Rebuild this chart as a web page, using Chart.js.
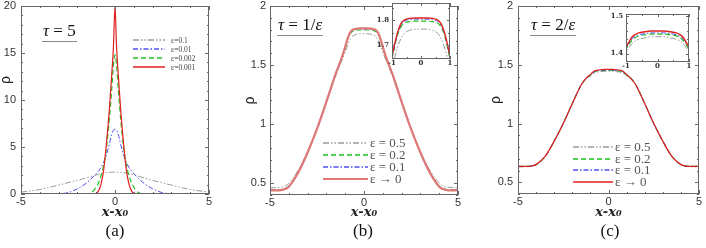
<!DOCTYPE html>
<html>
<head>
<meta charset="utf-8">
<script src="https://cdn.jsdelivr.net/npm/chart.js@4.4.0/dist/chart.umd.min.js"></script>
<style>
body { margin: 0; background: #fff; width: 706px; height: 248px; position: relative; overflow: hidden; font-family: "Liberation Serif", serif; }
canvas { position: absolute; top: 0; }
.tau { position: absolute; font-size: 17px; line-height: 17px; color: #111; border-bottom: 1px solid #888; padding: 0 1px 2px 1px; white-space: nowrap; }
.cap { position: absolute; top: 221px; width: 40px; margin-left: -20px; text-align: center; font-size: 17px; color: #111; }
.rho { position: absolute; font-family: "Liberation Sans", sans-serif; font-size: 14px; line-height: 14px; color: #222; transform: rotate(-90deg); }
</style>
</head>
<body>
<canvas id="cA" width="235" height="248" style="left:0"></canvas>
<canvas id="cB" width="235" height="248" style="left:240px"></canvas>
<canvas id="cC" width="220" height="248" style="left:486px"></canvas>
<canvas id="iB" width="82" height="68" style="left:372px"></canvas>
<canvas id="iC" width="88" height="70" style="left:606px"></canvas>
<div class="rho" style="left:1px;top:73px">ρ</div>
<div class="tau" style="left:42px;top:22px"><i>τ</i> = 5</div>
<div class="tau" style="left:277px;top:16px"><i>τ</i> = 1/<i>ε</i></div>
<div class="tau" style="left:530px;top:16px"><i>τ</i> = 2/<i>ε</i></div>
<div class="cap" style="left:115px">(a)</div>
<div class="cap" style="left:363px">(b)</div>
<div class="cap" style="left:610px">(c)</div>
<script>
// panel (a): tau = 5
const xA = [-5, -4, -3, -2.5, -2, -1.6, -1.3, -1.1, -0.9, -0.75, -0.6, -0.45, -0.3, -0.18, -0.08, 0,
  0.08, 0.18, 0.3, 0.45, 0.6, 0.75, 0.9, 1.1, 1.3, 1.6, 2, 2.5, 3, 4, 5];
const a_e01 = [0.2, 0.48, 0.95, 1.2, 1.45, 1.68, 1.85, 1.97, 2.08, 2.16, 2.23, 2.28, 2.31, 2.32, 2.33, 2.33,
  2.33, 2.32, 2.31, 2.28, 2.23, 2.16, 2.08, 1.97, 1.85, 1.68, 1.45, 1.2, 0.95, 0.48, 0.2];
const a_e001 = [0, 0, 0.02, 0.15, 0.55, 1.05, 1.55, 1.95, 2.4, 2.8, 3.4, 4.2, 5.3, 6.3, 6.8, 6.9,
  6.8, 6.3, 5.3, 4.2, 3.4, 2.8, 2.4, 1.95, 1.55, 1.05, 0.55, 0.15, 0.02, 0, 0];
const a_e0002 = [0, 0, 0, 0, 0, 0, 0.1, 0.45, 1.1, 1.9, 3.1, 5.0, 8.0, 11.0, 13.8, 14.8,
  13.8, 11.0, 8.0, 5.0, 3.1, 1.9, 1.1, 0.45, 0.1, 0, 0, 0, 0, 0, 0];
const a_e0001 = [0, 0, 0, 0, 0, 0, 0, 0.02, 0.25, 1.0, 2.6, 5.5, 9.0, 12.5, 15.8, 20,
  15.8, 12.5, 9.0, 5.5, 2.6, 1.0, 0.25, 0.02, 0, 0, 0, 0, 0, 0, 0];

// panels (b) and (c) share the x grid
const xBC = [-5, -4.5, -4.2, -4, -3.5, -3, -2.5, -2, -1.5, -1.2, -1, -0.9, -0.8, -0.7, -0.6, -0.4, -0.2, 0,
  0.2, 0.4, 0.6, 0.7, 0.8, 0.9, 1, 1.2, 1.5, 2, 2.5, 3, 3.5, 4, 4.2, 4.5, 5];
// (b) tau = 1/eps
const b_e05 = [0.46, 0.465, 0.475, 0.5, 0.61, 0.77, 0.96, 1.18, 1.41, 1.53, 1.61, 1.655, 1.695, 1.725, 1.745, 1.76, 1.765, 1.765,
  1.765, 1.76, 1.745, 1.725, 1.695, 1.655, 1.61, 1.53, 1.41, 1.18, 0.96, 0.77, 0.61, 0.5, 0.475, 0.465, 0.46];
const b_e02 = [0.445, 0.445, 0.455, 0.475, 0.59, 0.76, 0.96, 1.19, 1.43, 1.55, 1.645, 1.7, 1.745, 1.772, 1.787, 1.795, 1.797, 1.797,
  1.797, 1.795, 1.787, 1.772, 1.745, 1.7, 1.645, 1.55, 1.43, 1.19, 0.96, 0.76, 0.59, 0.475, 0.455, 0.445, 0.445];
const b_e01 = [0.44, 0.44, 0.45, 0.47, 0.59, 0.76, 0.96, 1.19, 1.43, 1.555, 1.65, 1.705, 1.75, 1.78, 1.795, 1.803, 1.805, 1.805,
  1.805, 1.803, 1.795, 1.78, 1.75, 1.705, 1.65, 1.555, 1.43, 1.19, 0.96, 0.76, 0.59, 0.47, 0.45, 0.44, 0.44];
const b_e0 = [0.44, 0.44, 0.45, 0.47, 0.59, 0.76, 0.96, 1.19, 1.43, 1.555, 1.655, 1.71, 1.755, 1.785, 1.8, 1.808, 1.81, 1.81,
  1.81, 1.808, 1.8, 1.785, 1.755, 1.71, 1.655, 1.555, 1.43, 1.19, 0.96, 0.76, 0.59, 0.47, 0.45, 0.44, 0.44];
// (c) tau = 2/eps
const c_e05 = [0.63, 0.632, 0.638, 0.65, 0.72, 0.85, 1.0, 1.17, 1.33, 1.385, 1.405, 1.417, 1.427, 1.434, 1.438, 1.442, 1.445, 1.445,
  1.445, 1.442, 1.438, 1.434, 1.427, 1.417, 1.405, 1.385, 1.33, 1.17, 1.0, 0.85, 0.72, 0.65, 0.638, 0.632, 0.63];
const c_e02 = [0.635, 0.635, 0.64, 0.65, 0.72, 0.85, 1.0, 1.17, 1.33, 1.39, 1.412, 1.425, 1.436, 1.443, 1.447, 1.45, 1.452, 1.452,
  1.452, 1.45, 1.447, 1.443, 1.436, 1.425, 1.412, 1.39, 1.33, 1.17, 1.0, 0.85, 0.72, 0.65, 0.64, 0.635, 0.635];
const c_e01 = [0.635, 0.635, 0.64, 0.65, 0.72, 0.85, 1.0, 1.17, 1.33, 1.39, 1.415, 1.428, 1.44, 1.446, 1.45, 1.453, 1.455, 1.455,
  1.455, 1.453, 1.45, 1.446, 1.44, 1.428, 1.415, 1.39, 1.33, 1.17, 1.0, 0.85, 0.72, 0.65, 0.64, 0.635, 0.635];
const c_e0 = [0.635, 0.635, 0.64, 0.65, 0.72, 0.85, 1.0, 1.17, 1.33, 1.39, 1.418, 1.432, 1.445, 1.451, 1.455, 1.458, 1.46, 1.46,
  1.46, 1.458, 1.455, 1.451, 1.445, 1.432, 1.418, 1.39, 1.33, 1.17, 1.0, 0.85, 0.72, 0.65, 0.64, 0.635, 0.635];

const labelsA = ['ε=0.1', 'ε=0.01', 'ε=0.002', 'ε=0.001'];
const labelsBC = ['ε = 0.5', 'ε = 0.2', 'ε = 0.1', 'ε → 0'];
const xTicksMain = [-5, 0, 5];
const yTicksA = [0, 5, 10, 15, 20];
const yTicksBC = [0.5, 1, 1.5, 2];
const xTicksInset = [-1, 0, 1];
const yTicksInB = [1.7, 1.8];
const yTicksInC = [1.4, 1.5];

const GRAY = { c: '#9a9a9a', d: [6, 2, 1.5, 2, 1.5, 2], w: 1 };
const BLUE = { c: '#5050f0', d: [5, 2, 1.5, 2], w: 1 };
const GREEN = { c: '#20c020', d: [5, 3], w: 1.2 };
const RED = { c: '#e02020', d: [], w: 1.2 };
const PINK = { c: '#e07878', d: [], w: 2.2 };
const RED_IN = { c: '#e02020', d: [], w: 1.4 };

// frame with inward ticks on all four sides
const frameTicks = {
  id: 'frameTicks',
  beforeDatasetsDraw(chart, args, o) {
    if (!o.on) return;
    const { ctx, chartArea: c } = chart;
    ctx.save();
    ctx.fillStyle = '#fff';
    ctx.fillRect(c.left, c.top, c.width, c.height);
    ctx.restore();
  },
  afterDatasetsDraw(chart, args, o) {
    if (!o.on) return;
    const { ctx, chartArea: c, scales: { x, y } } = chart;
    ctx.save();
    ctx.strokeStyle = o.color;
    ctx.lineWidth = 1;
    ctx.strokeRect(Math.round(c.left) + 0.5, Math.round(c.top) + 0.5, Math.round(c.width) - 1, Math.round(c.height) - 1);
    const isMajor = (v, m) => Math.abs(v / m - Math.round(v / m)) < 1e-6;
    ctx.beginPath();
    let n0 = Math.ceil(x.min / o.xStep - 1e-6), n1 = Math.floor(x.max / o.xStep + 1e-6);
    for (let k = n0; k <= n1; k++) {
      const v = k * o.xStep, px = Math.round(x.getPixelForValue(v)) + 0.5;
      const len = isMajor(v, o.xMajor) ? o.major : o.minor;
      ctx.moveTo(px, c.bottom); ctx.lineTo(px, c.bottom - len);
      ctx.moveTo(px, c.top); ctx.lineTo(px, c.top + len);
    }
    n0 = Math.ceil(y.min / o.yStep - 1e-6); n1 = Math.floor(y.max / o.yStep + 1e-6);
    for (let k = n0; k <= n1; k++) {
      const v = k * o.yStep, py = Math.round(y.getPixelForValue(v)) + 0.5;
      const len = isMajor(v, o.yMajor) ? o.major : o.minor;
      ctx.moveTo(c.left, py); ctx.lineTo(c.left + len, py);
      ctx.moveTo(c.right, py); ctx.lineTo(c.right - len, py);
    }
    ctx.stroke();
    ctx.restore();
  }
};

// legend drawn as a line sample followed by its label
const lineLegend = {
  id: 'lineLegend',
  afterDraw(chart, args, o) {
    if (!o.on) return;
    const ctx = chart.ctx;
    chart.data.datasets.forEach((ds, i) => {
      const w = Math.max(1.5, ds.borderWidth);
      const y = Math.round(o.y + i * o.dy);
      ctx.save();
      ctx.strokeStyle = ds.borderColor;
      ctx.lineWidth = w;
      ctx.setLineDash(ds.borderDash || []);
      ctx.beginPath();
      ctx.moveTo(o.x, y); ctx.lineTo(o.x + o.len, y);
      ctx.stroke();
      ctx.fillStyle = o.color;
      ctx.font = o.font;
      ctx.textBaseline = 'middle';
      ctx.fillText(ds.label, o.x + o.len + o.gap, y + 1);
      ctx.restore();
    });
  }
};
Chart.register(frameTicks, lineLegend);

function pts(xs, ys) { return xs.map((x, i) => ({ x: x, y: ys[i] })); }

function series(xs, arrs, labels, styles) {
  return arrs.map((arr, i) => ({
    label: labels[i],
    data: pts(xs, arr),
    borderColor: styles[i].c,
    borderDash: styles[i].d,
    borderWidth: styles[i].w,
    pointRadius: 0,
    cubicInterpolationMode: 'monotone',
    fill: false,
    order: 4 - i
  }));
}

function fixTicks(list) {
  return s => { s.ticks = list.map(v => ({ value: v })); };
}

function makeChart(id, cfg) {
  return new Chart(document.getElementById(id), {
    type: 'line',
    data: { datasets: cfg.datasets },
    options: {
      responsive: false,
      animation: false,
      devicePixelRatio: 1,
      layout: { padding: cfg.pad },
      plugins: {
        legend: { display: false },
        tooltip: { enabled: false },
        frameTicks: Object.assign({ on: true, color: '#666' }, cfg.frame),
        lineLegend: cfg.legend || { on: false }
      },
      scales: {
        x: {
          type: 'linear', min: cfg.xMin, max: cfg.xMax,
          afterBuildTicks: fixTicks(cfg.xTicks),
          afterFit: s => { s.height = cfg.xH; s.paddingLeft = 0; s.paddingRight = 0; },
          grid: { display: false, drawTicks: false },
          border: { display: false },
          ticks: { padding: cfg.xPad, autoSkip: false, maxRotation: 0, color: '#333', font: cfg.tickFont, callback: v => String(v) },
          title: cfg.xTitle || { display: false }
        },
        y: {
          type: 'linear', min: cfg.yMin, max: cfg.yMax,
          afterBuildTicks: fixTicks(cfg.yTicks),
          afterFit: s => { s.width = cfg.yW; s.paddingTop = 0; s.paddingBottom = 0; },
          grid: { display: false, drawTicks: false },
          border: { display: false },
          ticks: { padding: cfg.yPad, autoSkip: false, color: '#333', font: cfg.tickFont, callback: v => String(v) },
          title: cfg.yTitle || { display: false }
        }
      }
    }
  });
}

const mainTick = { family: 'Liberation Sans', size: 11, lineHeight: 1.2 };
const xTitle = { display: true, text: 'x-x₀', color: '#222',
  font: { family: 'DejaVu Serif', size: 13, weight: 'bold', style: 'italic', lineHeight: 1.2 },
  padding: { top: 0, bottom: 28 } };
function yTitle(p) {
  return { display: true, text: 'ρ', color: '#222',
    font: { family: 'Liberation Sans', size: 14, lineHeight: 1 }, padding: { top: p, bottom: 0 } };
}

makeChart('cA', {
  datasets: series(xA, [a_e01, a_e001, a_e0002, a_e0001], labelsA, [GRAY, BLUE, GREEN, RED]),
  pad: { left: 0, right: 26, top: 6, bottom: 0 },
  xMin: -5, xMax: 5, yMin: 0, yMax: 20,
  xTicks: xTicksMain, yTicks: yTicksA,
  xH: 54, yW: 21, xPad: 1, yPad: 5,
  tickFont: mainTick, xTitle: xTitle,
  frame: { xStep: 1, xMajor: 5, yStep: 1, yMajor: 5, major: 4, minor: 2 },
  legend: { on: true, x: 133, y: 39.5, dy: 9, len: 32, gap: 6, color: '#444', font: '7.5px "Liberation Serif"' }
});

makeChart('cB', {
  datasets: series(xBC, [b_e05, b_e02, b_e01, b_e0], labelsBC, [GRAY, GREEN, BLUE, PINK]),
  pad: { left: 0, right: 17, top: 6, bottom: 0 },
  xMin: -5, xMax: 5, yMin: 0.4, yMax: 2,
  xTicks: xTicksMain, yTicks: yTicksBC,
  xH: 53, yW: 30, xPad: 1, yPad: 4,
  tickFont: mainTick, xTitle: xTitle, yTitle: yTitle(3),
  frame: { xStep: 1, xMajor: 5, yStep: 0.1, yMajor: 0.5, major: 4, minor: 2 },
  legend: { on: true, x: 83, y: 143, dy: 12, len: 45, gap: 2, color: '#555', font: '13px "Liberation Serif"' }
});

makeChart('cC', {
  datasets: series(xBC, [c_e05, c_e02, c_e01, c_e0], labelsBC, [GRAY, GREEN, BLUE, RED]),
  pad: { left: 0, right: 7, top: 6, bottom: 0 },
  xMin: -5, xMax: 5, yMin: 0.4, yMax: 2,
  xTicks: xTicksMain, yTicks: yTicksBC,
  xH: 54, yW: 32, xPad: 1, yPad: 5,
  tickFont: mainTick, xTitle: xTitle, yTitle: yTitle(3),
  frame: { xStep: 1, xMajor: 5, yStep: 0.1, yMajor: 0.5, major: 4, minor: 2 },
  legend: { on: true, x: 87, y: 147, dy: 11.7, len: 40, gap: 2, color: '#555', font: '13px "Liberation Serif"' }
});

const insetTick = { family: 'DejaVu Serif', size: 7, weight: 'bold', lineHeight: 1 };

makeChart('iB', {
  datasets: series(xBC, [b_e05, b_e02, b_e01, b_e0], labelsBC, [GRAY, GREEN, BLUE, RED_IN]),
  pad: { left: 0, right: 4, top: 3, bottom: 0 },
  xMin: -1, xMax: 1, yMin: 1.645, yMax: 1.87,
  xTicks: xTicksInset, yTicks: yTicksInB,
  xH: 9, yW: 20, xPad: 1, yPad: 3,
  tickFont: insetTick,
  frame: { xStep: 0.5, xMajor: 1, yStep: 0.05, yMajor: 0.1, major: 3, minor: 2 }
});

makeChart('iC', {
  datasets: series(xBC, [c_e05, c_e02, c_e01, c_e0], labelsBC, [GRAY, GREEN, BLUE, RED_IN]),
  pad: { left: 0, right: 5, top: 14, bottom: 0 },
  xMin: -1, xMax: 1, yMin: 1.378, yMax: 1.505,
  xTicks: xTicksInset, yTicks: yTicksInC,
  xH: 8, yW: 20, xPad: 1, yPad: 3,
  tickFont: insetTick,
  frame: { xStep: 0.5, xMajor: 1, yStep: 0.02, yMajor: 0.1, major: 3, minor: 2 }
});
</script>
</body>
</html>
